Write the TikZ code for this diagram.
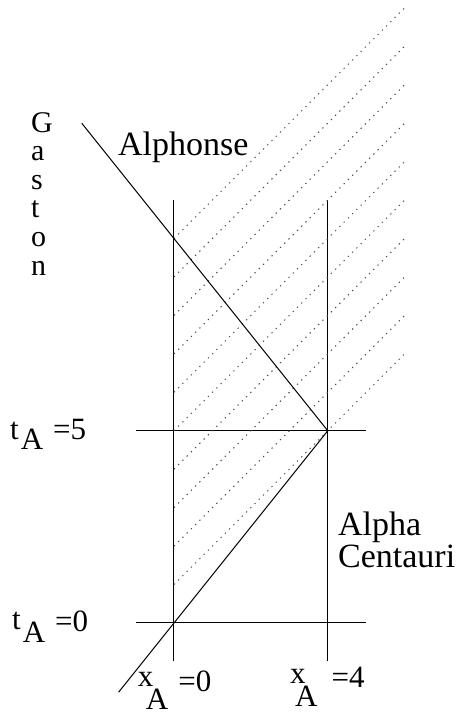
\documentclass[tikz,border=0pt]{standalone}
\usepackage{fontspec}
\setmainfont{Liberation Serif}
\begin{document}
\begin{tikzpicture}[x=38.45bp, y=38.45bp,
    frame/.style={line width=1bp},
    wline/.style={line width=1bp},
    ray/.style={black!70, line width=1bp, dash pattern=on 1.3bp off 4.7bp},
    bigtext/.style={anchor=base west, inner sep=0pt, align=left, font=\fontsize{34bp}{32bp}\selectfont},
    tlabel/.style={anchor=base west, inner sep=0pt, font=\fontsize{31bp}{32bp}\selectfont},
    xlabel/.style={anchor=base west, inner sep=0pt, font=\fontsize{31bp}{32bp}\selectfont}
  ]
  \useasboundingbox (-4.525,-2.341) rectangle (7.361,16.203);

  % --- events ---
  \coordinate (depart) at (0,0);
  \coordinate (arrive) at (4,5);
  \coordinate (past) at (-1.44,-1.8);
  \coordinate (return) at (-2.4,13);

  % --- frame of A ---
  \coordinate (earth-b) at (0,-1);
  \coordinate (earth-t) at (0,11);
  \coordinate (star-b) at (4,-1);
  \coordinate (star-t) at (4,11);
  \coordinate (tzero-l) at (-1,0);
  \coordinate (tzero-r) at (5,0);
  \coordinate (tfive-l) at (-1,5);
  \coordinate (tfive-r) at (5,5);

  \draw[frame] (earth-b) -- (earth-t);
  \draw[frame] (star-b) -- (star-t);
  \draw[frame] (tzero-l) -- (tzero-r);
  \draw[frame] (tfive-l) -- (tfive-r);

  % light signals
  \foreach \t in {1,...,10}
    \draw[ray] (0,\t) -- (6,\t+6);

  % Alphonse's trip
  \draw[wline] (past) -- (depart) -- (arrive) -- (return);

  % --- labels (base = last line) ---
  \node[bigtext, font=\fontsize{30bp}{28.6bp}\selectfont] (gaston) at (-3.719,9.05) {G\\a\\s\\t\\o\\n};
  \node[bigtext] (alphonse) at (-1.456,12.17) {Alphonse};
  \node[bigtext] (centauri) at (4.265,1.456) {Alpha\\Centauri};

  \node[tlabel] (tA5) at (-4.265,4.76) {t\kern2bp\raisebox{-10bp}{A}\kern10bp=5};
  \node[tlabel] (tA0) at (-4.213,-0.226) {\raisebox{2bp}{t}\kern2bp\raisebox{-11bp}{A}\kern10bp=0};
  \node[xlabel] (xA0) at (-0.944,-1.787) {\raisebox{5bp}{x}\kern-7.5bp\raisebox{-18bp}{A}\kern10bp=0};
  \node[xlabel] (xA4) at (3.017,-1.665) {\raisebox{4bp}{x}\kern-10.5bp\raisebox{-19bp}{A}\kern14bp=4};
\end{tikzpicture}
\end{document}
